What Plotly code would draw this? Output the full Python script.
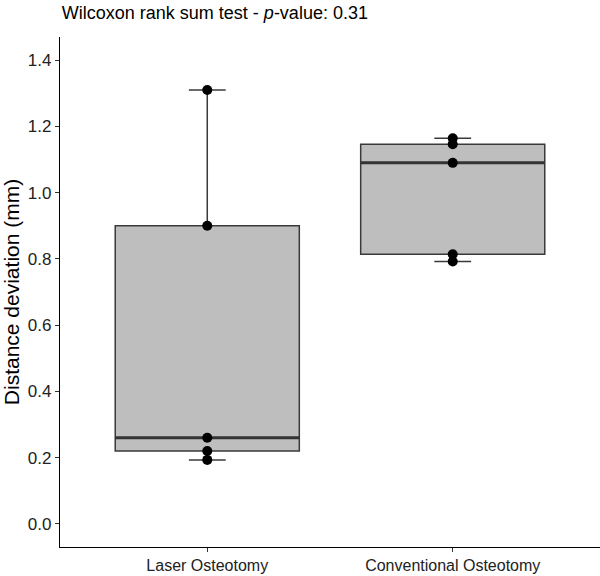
import numpy as np
import plotly.graph_objects as go

# grupos y mediciones (mm)
grupos = ["Laser Osteotomy", "Conventional Osteotomy"]
laser = [1.31, 0.90, 0.26, 0.22, 0.193]
convencional = [1.164, 1.146, 1.09, 0.814, 0.792]
valores = [laser, convencional]
yticks = [0.0, 0.2, 0.4, 0.6, 0.8, 1.0, 1.2, 1.4]

fig = go.Figure()

for i, vals in enumerate(valores):
    v = np.array(vals)
    q1, med, q3 = np.percentile(v, [25, 50, 75])
    fig.add_trace(go.Box(
        x=[i], q1=[q1], median=[med], q3=[q3],
        lowerfence=[v.min()], upperfence=[v.max()],
        width=0.75, whiskerwidth=0.2,
        fillcolor="#BEBEBE", line=dict(color="#3a3a3a", width=1.5),
        showlegend=False, hoverinfo="skip",
    ))
    # mediana más gruesa (estilo ggplot)
    fig.add_trace(go.Scatter(
        x=[i - 0.375, i + 0.375], y=[med, med], mode="lines",
        line=dict(color="#333333", width=3), showlegend=False, hoverinfo="skip",
    ))
    fig.add_trace(go.Scatter(
        x=[i] * len(v), y=v, mode="markers",
        marker=dict(color="black", size=10), showlegend=False,
    ))

fig.update_layout(
    width=600, height=576,
    margin=dict(l=60, r=0, t=37, b=29),
    plot_bgcolor="white", paper_bgcolor="white",
    font=dict(family="Liberation Sans, Arial", color="#222222", size=16),
    title=dict(
        text="Wilcoxon rank sum test - <i>p</i>-value: 0.31",
        x=0.103, xref="container", xanchor="left",
        y=1 - 13 / 576, yref="container", yanchor="middle",
        font=dict(size=18, color="black"),
    ),
)
fig.update_xaxes(
    range=[-0.6, 1.6], tickvals=[0, 1], ticktext=grupos, automargin=False,
    showline=True, linecolor="black", linewidth=1.2,
    ticks="outside", ticklen=4, tickcolor="#333333", showgrid=False, zeroline=False,
    tickfont=dict(size=16, color="#222222"),
)
fig.update_yaxes(
    range=[-0.07, 1.47], tickvals=yticks, tickformat=".1f", automargin=False,
    title=dict(text="Distance deviation (mm)", font=dict(size=21, color="black"), standoff=2),
    showline=True, linecolor="black", linewidth=1.2,
    ticks="outside", ticklen=4, tickcolor="#333333", showgrid=False, zeroline=False,
    tickfont=dict(size=17, color="#222222"),
)

# quitar el margen por defecto del body para que la figura ocupe toda la ventana
fig.write_html(
    "out.html",
    config={"displayModeBar": False},
    post_script="document.body.style.margin='0';",
)
